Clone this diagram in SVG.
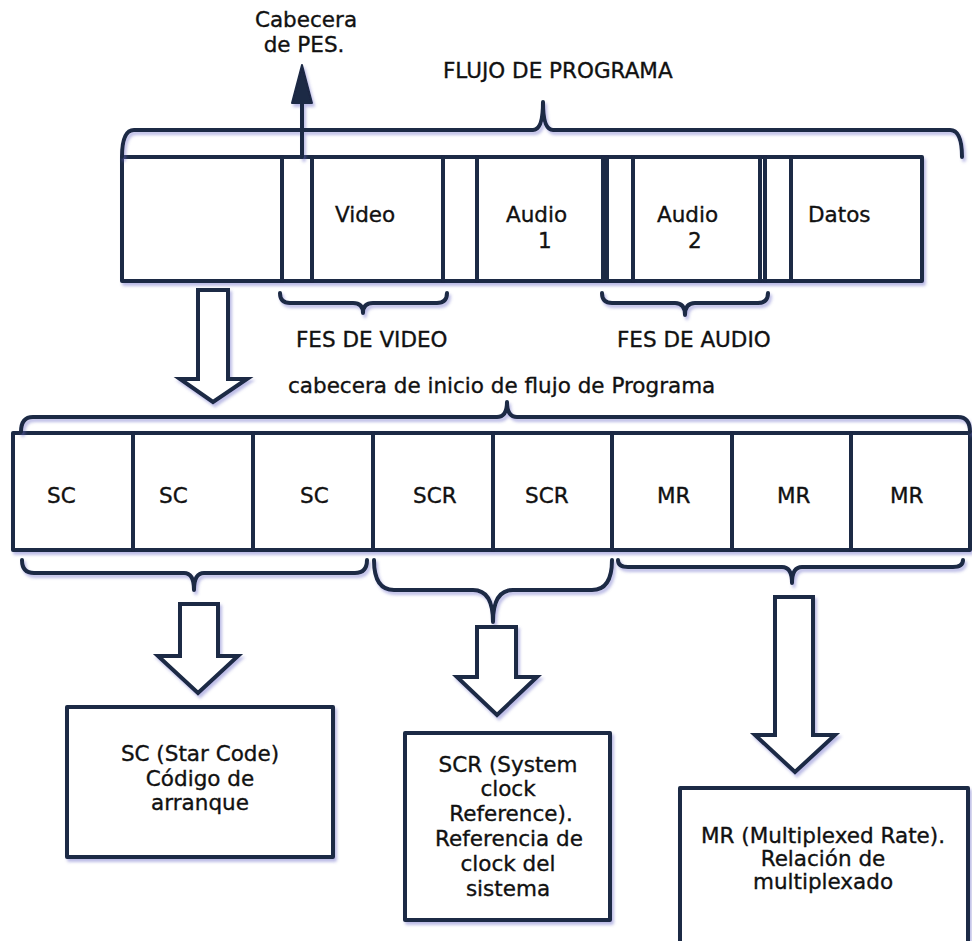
<svg xmlns="http://www.w3.org/2000/svg" width="972" height="941" viewBox="0 0 972 941">
  <defs>
    <filter id="glow" x="-10%" y="-10%" width="120%" height="130%">
      <feDropShadow dx="2" dy="3" stdDeviation="1.8" flood-color="#6b6bc8" flood-opacity="0.45"/>
    </filter>
  </defs>
  <style>
    .ln { fill: none; stroke: #1b2944; stroke-width: 4; stroke-linejoin: round; stroke-linecap: round; }
    .box { fill: #ffffff; stroke: #1b2944; stroke-width: 4; stroke-linejoin: round; }
    .hollow { fill: #ffffff; stroke: #1b2944; stroke-width: 4; stroke-linejoin: miter; }
    .t { font-family: "DejaVu Sans", Verdana, sans-serif; font-size: 21.5px; fill: #111111; stroke: #111111; stroke-width: 0.35; }
    .c { text-anchor: middle; }
    .sh { filter: url(#glow); }
  </style>

  <rect width="972" height="941" fill="#ffffff"/>

  <!-- Program stream bar -->
  <g id="program-stream" class="sh">
    <rect class="box" x="122" y="157" width="800" height="124"/>
    <line class="ln" x1="282" y1="157" x2="282" y2="281"/>
    <line class="ln" x1="312" y1="157" x2="312" y2="281"/>
    <line class="ln" x1="443" y1="157" x2="443" y2="281"/>
    <line class="ln" x1="477" y1="157" x2="477" y2="281"/>
    <line class="ln" x1="603" y1="157" x2="603" y2="281"/>
    <line class="ln" x1="607" y1="157" x2="607" y2="281"/>
    <line class="ln" x1="633" y1="157" x2="633" y2="281"/>
    <line class="ln" x1="760" y1="157" x2="760" y2="281"/>
    <line class="ln" x1="765" y1="157" x2="765" y2="281"/>
    <line class="ln" x1="791" y1="157" x2="791" y2="281"/>
  </g>
  <g id="cell-video"><text class="t" x="335" y="222">Video</text></g>
  <g id="cell-audio1"><text class="t" x="506" y="222">Audio</text><text class="t" x="538" y="248">1</text></g>
  <g id="cell-audio2"><text class="t" x="657" y="222">Audio</text><text class="t" x="688" y="248">2</text></g>
  <g id="cell-datos"><text class="t" x="808" y="222">Datos</text></g>

  <!-- Pack header bar -->
  <g id="pack-header" class="sh">
    <rect class="box" x="13" y="433" width="957" height="117"/>
    <line class="ln" x1="133" y1="433" x2="133" y2="550"/>
    <line class="ln" x1="253" y1="433" x2="253" y2="550"/>
    <line class="ln" x1="373" y1="433" x2="373" y2="550"/>
    <line class="ln" x1="493" y1="433" x2="493" y2="550"/>
    <line class="ln" x1="612" y1="433" x2="612" y2="550"/>
    <line class="ln" x1="732" y1="433" x2="732" y2="550"/>
    <line class="ln" x1="851" y1="433" x2="851" y2="550"/>
  </g>
  <g id="cells-header">
    <text class="t" x="47" y="503">SC</text>
    <text class="t" x="159" y="503">SC</text>
    <text class="t" x="300" y="503">SC</text>
    <text class="t" x="413" y="503">SCR</text>
    <text class="t" x="525" y="503">SCR</text>
    <text class="t" x="657" y="503">MR</text>
    <text class="t" x="777" y="503">MR</text>
    <text class="t" x="890" y="503">MR</text>
  </g>

  <!-- Description boxes -->
  <g id="box-sc">
    <rect class="box sh" x="67" y="707" width="266" height="150"/>
    <text class="t c" x="200" y="761">SC (Star Code)</text>
    <text class="t c" x="200" y="786">Código de</text>
    <text class="t c" x="200" y="810">arranque</text>
  </g>
  <g id="box-scr">
    <rect class="box sh" x="405" y="733" width="205" height="187"/>
    <text class="t c" x="508" y="772">SCR (System</text>
    <text class="t c" x="508" y="796">clock</text>
    <text class="t c" x="511" y="821">Reference).</text>
    <text class="t c" x="509" y="846">Referencia de</text>
    <text class="t c" x="508" y="871">clock del</text>
    <text class="t c" x="508" y="896">sistema</text>
  </g>
  <g id="box-mr">
    <rect class="box sh" x="680" y="788" width="288" height="170"/>
    <text class="t c" x="823" y="843">MR (Multiplexed Rate).</text>
    <text class="t c" x="823" y="866">Relación de</text>
    <text class="t c" x="823" y="889">multiplexado</text>
  </g>

  <!-- Labels -->
  <g id="labels">
    <text class="t c" x="306" y="27">Cabecera</text>
    <text class="t c" x="304" y="52">de PES.</text>
    <text class="t" x="443" y="78">FLUJO DE PROGRAMA</text>
    <text class="t" x="296" y="347">FES DE VIDEO</text>
    <text class="t" x="617" y="347">FES DE AUDIO</text>
    <text class="t" x="288" y="393">cabecera de inicio de flujo de Programa</text>
  </g>

  <!-- Braces and arrows -->
  <g id="connectors" class="sh">
    <path class="ln" d="M122,157 Q122,130 134,130 L533,130 Q543,130 543,102 Q543,130 553,130 L950,130 Q962,130 962,157"/>
    <line class="ln" x1="302" y1="157" x2="302" y2="98"/>
    <polygon points="302,65 292,103 312,103" fill="#1b2944" stroke="#1b2944" stroke-width="2" stroke-linejoin="round"/>
    <path class="ln" d="M280,293 Q280,303 290,303 L353,303 Q363,303 363,313 Q363,303 373,303 L437,303 Q447,303 447,293"/>
    <path class="ln" d="M602,293 Q602,303 612,303 L675,303 Q685,303 685,315 Q685,303 695,303 L758,303 Q768,303 768,293"/>
    <polygon class="hollow" points="198,290 228,290 228,379 247,379 213,402 180,379 198,379"/>
    <path class="ln" d="M21,432 Q21,417 33,417 L497,417 Q507,417 507,402 Q507,417 517,417 L958,417 Q970,417 970,432"/>
    <path class="ln" d="M22,560 Q22,573 34,573 L184,573 Q194,573 194,590 Q194,573 204,573 L355,573 Q367,573 367,560"/>
    <path class="ln" d="M374,560 Q374,590 394,590 L473,590 Q493,590 493,622 Q493,590 513,590 L592,590 Q612,590 612,560"/>
    <path class="ln" d="M618,560 Q618,567 628,567 L782,567 Q792,567 792,583 Q792,567 802,567 L953,567 Q963,567 963,560"/>
    <polygon class="hollow" points="180,604 218,604 218,656 238,656 198,693 158,656 180,656"/>
    <polygon class="hollow" points="477,627 516,627 516,677 537,677 497,715 457,677 477,677"/>
    <polygon class="hollow" points="775,597 813,597 813,735 835,735 795,772 755,735 775,735"/>
  </g>
</svg>
